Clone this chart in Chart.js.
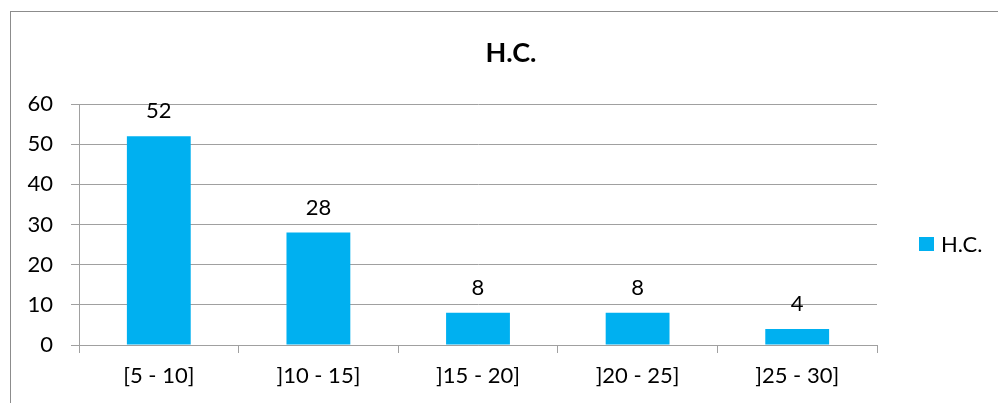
<!DOCTYPE html>
<html>
<head>
<meta charset="utf-8">
<script src="https://cdn.jsdelivr.net/npm/chart.js@4"></script>
<style>
  html, body { margin: 0; padding: 0; background: #ffffff; }
  #wrap { position: relative; width: 998px; height: 403px; }
</style>
</head>
<body>
<div id="wrap"><canvas id="c" width="998" height="403"></canvas></div>
<script>
// Chart content
const chartTitle = 'H.C.';
const seriesName = 'H.C.';
const categories = ['[5 - 10]', ']10 - 15]', ']15 - 20]', ']20 - 25]', ']25 - 30]'];
const counts = [52, 28, 8, 8, 4];
const yMin = 0;
const yMax = 60;
const yStep = 10;

const FONT = 'Lato, "Open Sans", sans-serif';
const TEXT_SIZE = 22;
const BAR = '#00B0F0';
const GRID = '#a0a0a0';

// Outer frame, title, value labels and legend
const decor = {
  id: 'decor',
  beforeDraw(chart) {
    const ctx = chart.ctx;
    ctx.save();
    ctx.fillStyle = '#ffffff';
    ctx.fillRect(0, 0, chart.width, chart.height);
    ctx.strokeStyle = '#8c8c8c';
    ctx.lineWidth = 1;
    ctx.strokeRect(10.5, 11.5, 1200, 600);
    ctx.restore();
  },
  afterDatasetsDraw(chart) {
    const ctx = chart.ctx;
    ctx.save();
    // title
    ctx.fillStyle = '#000000';
    ctx.font = 'bold 27px ' + FONT;
    ctx.textAlign = 'center';
    ctx.textBaseline = 'middle';
    ctx.fillText(chartTitle, 511, 53);

    // value labels above the bars
    ctx.font = TEXT_SIZE + 'px ' + FONT;
    const meta = chart.getDatasetMeta(0);
    meta.data.forEach((bar, i) => {
      ctx.fillText(String(chart.data.datasets[0].data[i]), bar.x, bar.y - 25);
    });

    // legend
    const ds = chart.data.datasets[0];
    ctx.fillStyle = ds.backgroundColor;
    ctx.fillRect(919, 237, 15, 14);
    ctx.fillStyle = '#000000';
    ctx.textAlign = 'left';
    ctx.fillText(ds.label, 941, 245);
    ctx.restore();
  }
};

new Chart(document.getElementById('c'), {
  type: 'bar',
  data: {
    labels: categories,
    datasets: [{
      label: seriesName,
      data: counts,
      backgroundColor: BAR,
      borderWidth: 0,
      categoryPercentage: 1,
      barPercentage: 0.4
    }]
  },
  options: {
    responsive: false,
    devicePixelRatio: 1,
    animation: false,
    layout: { padding: { left: 0, right: 121, top: 104, bottom: 0 } },
    plugins: {
      legend: { display: false },
      title: { display: false },
      tooltip: { enabled: false }
    },
    scales: {
      x: {
        offset: true,
        grid: { display: true, drawOnChartArea: false, drawTicks: true, tickLength: 8, color: GRID, offset: true },
        border: { display: true, color: GRID },
        ticks: { color: '#000000', font: { family: FONT, size: TEXT_SIZE }, padding: 10, maxRotation: 0 },
        afterFit(scale) { scale.height = 58; }
      },
      y: {
        min: yMin,
        max: yMax,
        grid: { display: true, drawOnChartArea: true, drawTicks: true, tickLength: 8, color: GRID },
        border: { display: true, color: GRID },
        ticks: { stepSize: yStep, color: '#000000', font: { family: FONT, size: TEXT_SIZE }, padding: 18 },
        afterFit(scale) { scale.width = 79; }
      }
    }
  },
  plugins: [decor]
});
</script>
</body>
</html>
